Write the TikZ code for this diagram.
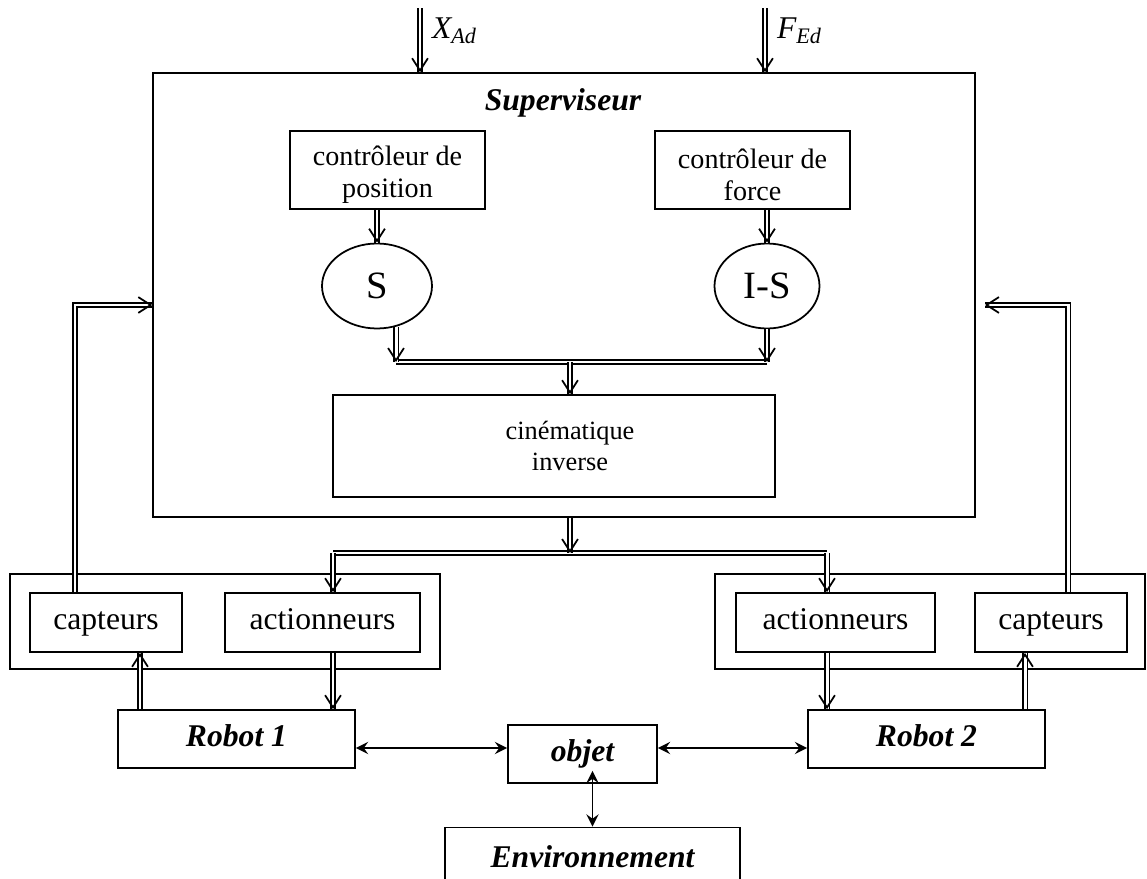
\documentclass[tikz,border=0pt]{standalone}
\usepackage{fontspec}
\setmainfont{Liberation Serif}
\usetikzlibrary{arrows.meta,shapes.geometric,calc,decorations.markings}

\tikzset{
  blk/.style={draw, line width=1pt, inner sep=0pt, align=center, font=\fontsize{18}{20}\selectfont},
  one/.style={text height=12pt, text depth=4pt},
  ttl/.style={font=\fontsize{18}{20}\selectfont\bfseries\itshape},
  dbl/.style={double, double distance=1.7pt, line width=1pt},
  dblarr/.style={dbl, postaction={decorate}, decoration={markings,
      mark=at position 1 with {\arrow[line width=1pt]{Straight Barb[length=7pt,width=9pt]}}}},
  sgl/.style={line width=1pt, {Stealth[length=7pt,width=7pt,inset=2.5pt]}-{Stealth[length=7pt,width=7pt,inset=2.5pt]}}
}

\begin{document}
\begin{tikzpicture}[x=0.02cm, y=-0.02cm]
\useasboundingbox (0,0) rectangle (1147,879);
% superviseur
\node[blk, minimum width=16.44cm, minimum height=8.88cm] (sup) at (564,295) {};
\node[ttl] (suptxt) at (563,103) {Superviseur};
\node[blk, minimum width=3.9cm, minimum height=1.56cm] (cpos) at (387.5,170) {};
\node[align=center, font=\fontsize{16}{18}\selectfont] (cpostxt) at (387.5,175) {contrôleur de\\position};
\node[blk, minimum width=3.9cm, minimum height=1.56cm] (cfor) at (752.5,170) {};
\node[align=center, font=\fontsize{16}{18}\selectfont] (cfortxt) at (752.5,175) {contrôleur de\\force};
\node[blk, ellipse, font=\fontsize{22}{24}\selectfont, minimum width=2.2cm, minimum height=1.7cm] (S) at (377,286) {S};
\node[blk, ellipse, font=\fontsize{22}{24}\selectfont, minimum width=2.1cm, minimum height=1.7cm] (IS) at (767,286) {I-S};
\node[blk, minimum width=8.84cm, minimum height=2.04cm] (cin) at (554,446) {};
\node[align=center, font=\fontsize{15}{18}\selectfont] (cintxt) at (570,446) {cinématique\\inverse};
% consignes
\coordinate (xa) at (420,8); \coordinate (fe) at (765,8);
\draw[dblarr] (xa) -- (xa |- sup.north) node[pos=0.35, right=3pt, font=\fontsize{18}{20}\selectfont\itshape] (xlab) {X\textsubscript{Ad}};
\draw[dblarr] (fe) -- (fe |- sup.north) node[pos=0.35, right=3pt, font=\fontsize{18}{20}\selectfont\itshape] (flab) {F\textsubscript{Ed}};
\draw[dblarr] (S.north |- cpos.south) -- (S.north);
\draw[dblarr] (IS.north |- cfor.south) -- (IS.north);
\coordinate (mrg) at (570,362);
\draw[dbl] (S.-65 |- mrg) -- (IS.south |- mrg);
\draw[dblarr] (S.-65) -- (S.-65 |- mrg);
\draw[dblarr] (IS.south) -- (IS.south |- mrg);
\draw[dblarr] (mrg) -- (mrg |- cin.north);
% robots 1 et 2
\node[blk, minimum width=8.6cm, minimum height=1.9cm] (grp1) at (225,621.5) {};
\node[blk, one, minimum width=3.04cm, minimum height=1.18cm] (capt1) at (106,622.5) {capteurs};
\node[blk, one, minimum width=3.9cm, minimum height=1.18cm] (act1) at (322.5,622.5) {actionneurs};
\node[blk, minimum width=8.6cm, minimum height=1.9cm] (grp2) at (930,621.5) {};
\node[blk, one, minimum width=3.98cm, minimum height=1.18cm] (act2) at (835.5,622.5) {actionneurs};
\node[blk, one, minimum width=3.04cm, minimum height=1.18cm] (capt2) at (1051,622.5) {capteurs};
\node[blk, ttl, one, minimum width=4.74cm, minimum height=1.16cm] (rob1) at (236.5,739) {Robot 1};
\node[blk, ttl, one, minimum width=4.74cm, minimum height=1.16cm] (rob2) at (926.5,739) {Robot 2};
\node[blk, ttl, one, minimum width=2.98cm, minimum height=1.16cm] (obj) at (582.5,754) {objet};
\node[blk, ttl, one, minimum width=5.9cm, minimum height=1.3cm] (env) at (592.5,860) {Environnement};
% commandes vers les actionneurs
\coordinate (spl) at (570,553); \coordinate (s1) at (333,553); \coordinate (s2) at (827,553);
\draw[dbl] (s1) -- (s2);
\draw[dblarr] (spl |- sup.south) -- (spl);
\draw[dblarr] (s1) -- (s1 |- act1.north);
\draw[dblarr] (s2) -- (s2 |- act2.north);
% retours capteurs
\coordinate (fb1) at (75,305); \coordinate (fb2) at (1068,305); \coordinate (fb2e) at (985,305);
\draw[dblarr] (fb1 |- capt1.north) -- (fb1) -- (sup.west |- fb1);
\draw[dblarr] (fb2 |- capt2.north) -- (fb2) -- (fb2e);
\coordinate (u1) at (140,0); \coordinate (u2) at (1025,0);
\draw[dblarr] (u1 |- rob1.north) -- (u1 |- capt1.south);
\draw[dblarr] (act1.south -| s1) -- (rob1.north -| s1);
\draw[dblarr] (act2.south -| s2) -- (rob2.north -| s2);
\draw[dblarr] (u2 |- rob2.north) -- (u2 |- capt2.south);
% liaisons mecaniques
\coordinate (hl) at (0,748); \coordinate (ob) at ($(obj.south)+(10,-13)$);
\draw[sgl] (rob1.east |- hl) -- (obj.west |- hl);
\draw[sgl] (obj.east |- hl) -- (rob2.west |- hl);
\draw[sgl] (ob) -- (ob |- env.north);
\end{tikzpicture}
\end{document}
